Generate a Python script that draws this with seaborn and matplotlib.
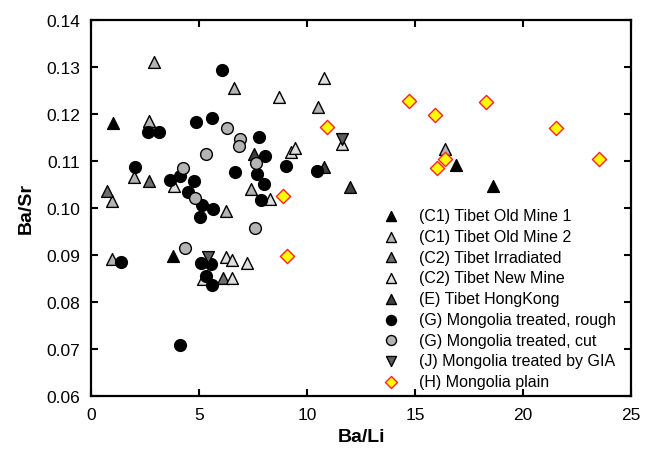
import numpy as np
import pandas as pd
import matplotlib
matplotlib.use('Agg')
import matplotlib.pyplot as plt
import seaborn as sns

# Values (Ba/Li, Ba/Sr)
c1_old1_x = [1.0, 3.8, 16.9, 18.6]
c1_old1_y = [0.1180, 0.0898, 0.1092, 0.1047]

c1_old2_x = [2.9, 2.7, 2.0, 0.97, 0.97, 6.6, 10.5, 16.4, 7.4, 6.25]
c1_old2_y = [0.1310, 0.1185, 0.1066, 0.1015, 0.0891, 0.1255, 0.1215, 0.1126, 0.1040, 0.0994]

c2_irr_x = [0.75, 2.7, 6.1]
c2_irr_y = [0.1036, 0.1057, 0.0851]

c2_new_x = [3.85, 8.3, 6.25, 6.5, 7.2, 6.5, 5.2, 9.25, 9.45, 11.6, 8.7, 10.8]
c2_new_y = [0.1047, 0.1019, 0.0896, 0.0889, 0.0883, 0.0851, 0.0849, 0.1119, 0.1128, 0.1135, 0.1236, 0.1277]

e_hk_x = [7.55, 10.8, 12.0]
e_hk_y = [0.1115, 0.1087, 0.1045]

g_rough_x = [2.05, 3.65, 4.1, 4.75, 4.5, 5.15, 5.05, 5.65, 1.4, 5.1, 5.55, 5.3, 5.6, 4.1,
             2.65, 3.15, 4.85, 5.6, 6.05, 7.75, 8.05, 6.65, 7.7, 8.0, 7.85, 9.0, 10.45]
g_rough_y = [0.1087, 0.1060, 0.1067, 0.1058, 0.1034, 0.1006, 0.0981, 0.0998, 0.0885, 0.0883,
             0.0881, 0.0855, 0.0836, 0.0709, 0.1162, 0.1162, 0.1183, 0.1192, 0.1294, 0.1151,
             0.1111, 0.1077, 0.1073, 0.1051, 0.1017, 0.1088, 0.1079]

g_cut_x = [4.25, 4.8, 4.35, 5.3, 6.3, 6.9, 6.85, 7.65, 7.6]
g_cut_y = [0.1085, 0.1021, 0.0915, 0.1114, 0.1170, 0.1147, 0.1132, 0.1096, 0.0957]

j_gia_x = [5.4, 11.6]
j_gia_y = [0.0896, 0.1147]

h_plain_x = [10.9, 14.7, 15.9, 18.3, 21.5, 23.5, 16.4, 16.0, 8.9, 9.05]
h_plain_y = [0.1172, 0.1228, 0.1197, 0.1225, 0.1170, 0.1104, 0.1103, 0.1085, 0.1026, 0.0898]

groups = [
    ('(C1) Tibet Old Mine 1', c1_old1_x, c1_old1_y, '^', '#000000', 'black'),
    ('(C1) Tibet Old Mine 2', c1_old2_x, c1_old2_y, '^', '#b4b4b4', 'black'),
    ('(C2) Tibet Irradiated', c2_irr_x, c2_irr_y, '^', '#6e6e6e', 'black'),
    ('(C2) Tibet New Mine', c2_new_x, c2_new_y, '^', '#dedede', 'black'),
    ('(E) Tibet HongKong', e_hk_x, e_hk_y, '^', '#404040', 'black'),
    ('(G) Mongolia treated, rough', g_rough_x, g_rough_y, 'o', '#000000', 'black'),
    ('(G) Mongolia treated, cut', g_cut_x, g_cut_y, 'o', '#b4b4b4', 'black'),
    ('(J) Mongolia treated by GIA', j_gia_x, j_gia_y, 'v', '#5e5e5e', 'black'),
    ('(H) Mongolia plain', h_plain_x, h_plain_y, 'D', '#ffff00', '#ff2020'),
]

sns.set_style('ticks')
plt.rcParams['font.family'] = ['Liberation Sans', 'DejaVu Sans']
plt.rcParams['text.color'] = 'black'
plt.rcParams['axes.labelcolor'] = 'black'
plt.rcParams['xtick.color'] = 'black'
plt.rcParams['ytick.color'] = 'black'

fig = plt.figure(figsize=(6.46, 4.52), dpi=100)
ax = fig.add_axes([0.141, 0.122, 0.836, 0.832])

for label, xs, ys, mk, fc, ec in groups:
    df = pd.DataFrame({'Ba/Li': xs, 'Ba/Sr': ys})
    size = 52 if mk == 'D' else 72
    sns.scatterplot(data=df, x='Ba/Li', y='Ba/Sr', marker=mk, color=fc, edgecolor=ec,
                    linewidth=1.0, s=size, label=label, ax=ax, zorder=3)

ax.set_xlim(0, 25)
ax.set_ylim(0.06, 0.14)
ax.set_xticks([0, 5, 10, 15, 20, 25])
ax.set_yticks(np.arange(0.06, 0.1401, 0.01))
ax.set_yticklabels([f'{v:.2f}' for v in np.arange(0.06, 0.1401, 0.01)])
ax.tick_params(direction='in', top=True, right=True, length=5, width=1.5, labelsize=12.5, pad=8)
for sp in ax.spines.values():
    sp.set_linewidth(1.6)
    sp.set_color('black')
ax.set_xlabel('Ba/Li', fontsize=14, fontweight='bold', labelpad=4)
ax.set_ylabel('Ba/Sr', fontsize=14, fontweight='bold', labelpad=8)

ax.legend(loc='lower right', bbox_to_anchor=(0.993, -0.012), frameon=False, fontsize=11.5,
          handletextpad=0.8, labelspacing=0.36, borderaxespad=0.3, markerscale=0.85)

fig.savefig('out.png', dpi=100)
